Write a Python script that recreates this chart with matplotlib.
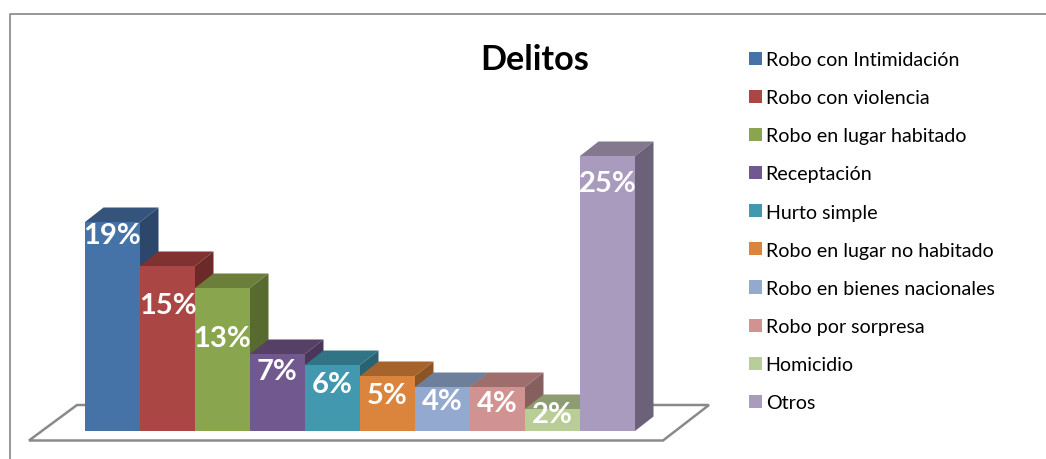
import matplotlib
matplotlib.use("Agg")
import matplotlib.pyplot as plt
from matplotlib.patches import Polygon
from matplotlib.lines import Line2D

plt.rcParams["font.family"] = ["Lato", "DejaVu Sans"]

categories = ["Robo con Intimidación", "Robo con violencia", "Robo en lugar habitado",
              "Receptación", "Hurto simple", "Robo en lugar no habitado",
              "Robo en bienes nacionales", "Robo por sorpresa", "Homicidio", "Otros"]
values = [19, 15, 13, 7, 6, 5, 4, 4, 2, 25]

front_colors = ["#4572A7", "#AA4643", "#89A54E", "#71588F", "#4198AF",
                "#DB843D", "#93A9CF", "#D19392", "#B9CD96", "#A99BBD"]
top_colors = ["#34547C", "#7F3230", "#6B7E3A", "#564066", "#317485",
              "#A6632C", "#6E7F9C", "#9E6E6D", "#8D9C72", "#84788F"]
side_colors = ["#2C4769", "#6B2A28", "#596A30", "#493658", "#296271",
               "#8C5424", "#5D6B84", "#85605F", "#77845F", "#6B6279"]
# how far below the bar top each label sits, in pixels
label_drop = [13, 39, 50, 17, 19, 19, 14, 16, 5, 27]

W, H = 1046, 460
bar_left = 85
bar_w = 55
base_y = 432
px_per_unit = 11
depth_x = 18.5 / bar_w
depth_y = 14.5 / px_per_unit

fig = plt.figure(figsize=(W / 100, H / 100), dpi=100)
ax = fig.add_axes([0, 0, 1, 1])
ax.set_xlim(-bar_left / bar_w, (W - bar_left) / bar_w)
ax.set_ylim(-(H - base_y) / px_per_unit, base_y / px_per_unit)
ax.axis("off")

# chart frame, only top and left show in the picture
fig.add_artist(Line2D([9.5 / W, 9.5 / W, 1], [0, 1 - 14.5 / H, 1 - 14.5 / H],
                      color="#868686", lw=1.2))

# floor
floor_pts = [(29, 441.5), (77, 406), (709, 406), (663, 441.5)]
floor_data = [((x - bar_left) / bar_w, (base_y - y) / px_per_unit) for x, y in floor_pts]
ax.add_patch(Polygon(floor_data, closed=True, fc="white", ec="#8A8A8A", lw=1.8, zorder=1))

for i, (v, c, tc, sc) in enumerate(zip(values, front_colors, top_colors, side_colors)):
    z = 2 + i
    ax.add_patch(Polygon([(i, v), (i + 1, v), (i + 1 + depth_x, v + depth_y), (i + depth_x, v + depth_y)],
                         closed=True, fc=tc, ec="none", zorder=z))
    ax.add_patch(Polygon([(i + 1, 0), (i + 1 + depth_x, depth_y), (i + 1 + depth_x, v + depth_y), (i + 1, v)],
                         closed=True, fc=sc, ec="none", zorder=z))
    ax.bar(i, v, width=1, align="edge", color=c, linewidth=0, zorder=z + 0.5)

for i, v in enumerate(values):
    ax.text(i + 0.5, v - label_drop[i] / px_per_unit, "%d%%" % v, color="white",
            fontsize=21, fontweight="bold", ha="center", va="center", zorder=30)

ax.text((534.5 - bar_left) / bar_w, (base_y - 60.5) / px_per_unit, "Delitos", fontsize=24.7,
        fontweight="bold", color="black", ha="center", va="center")

handles = [plt.Rectangle((0, 0), 1, 1, fc=c, ec="none") for c in front_colors]
ax.legend(handles, categories, loc="upper left", bbox_to_anchor=(749 / W, 1 - 52 / H),
          bbox_transform=fig.transFigure, frameon=False, fontsize=14.1,
          handlelength=0.65, handleheight=0.65, handletextpad=0.2,
          labelspacing=1.08, borderpad=0, borderaxespad=0)

fig.savefig("out.png", dpi=100)
